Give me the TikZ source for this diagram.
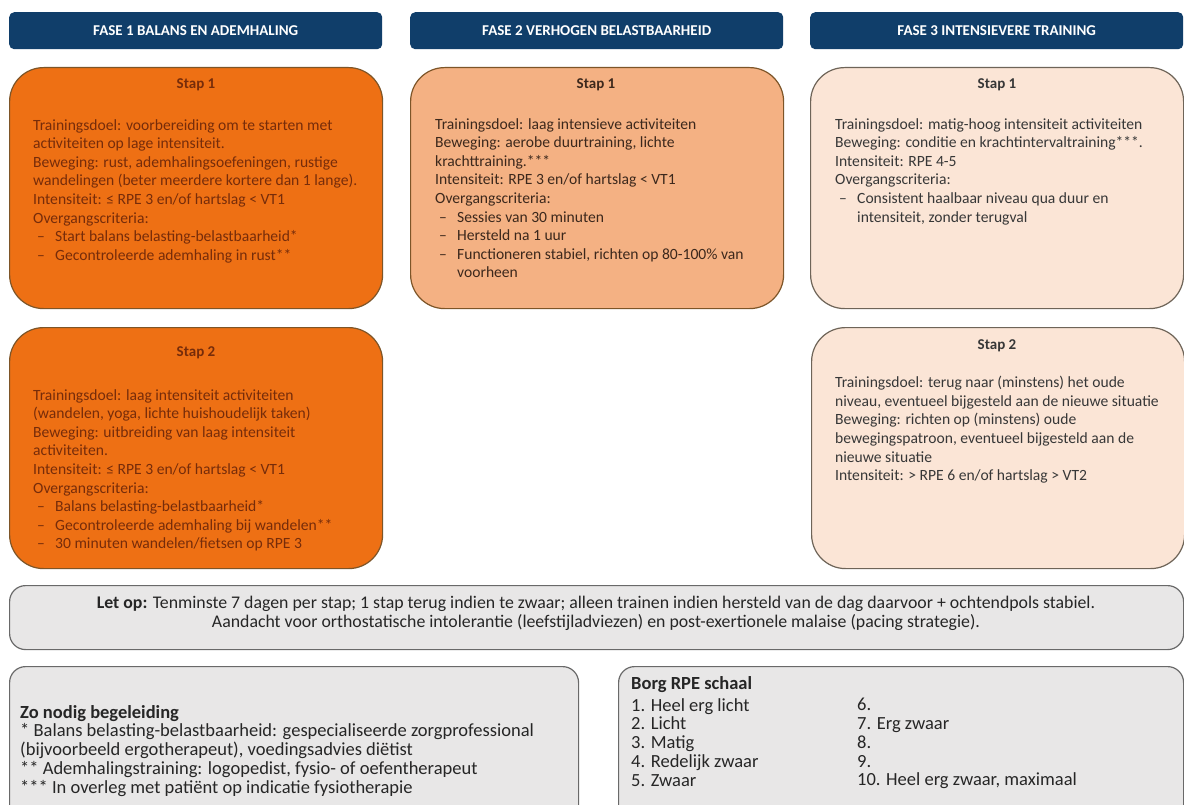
\documentclass[tikz,border=0pt]{standalone}
\usepackage{fontspec}
\setmainfont{Carlito}
\definecolor{navy}{RGB}{16,62,106}
\definecolor{orgA}{RGB}{238,112,20}
\definecolor{orgB}{RGB}{244,177,131}
\definecolor{peach}{RGB}{251,229,214}
\definecolor{greyfill}{RGB}{232,231,231}
\definecolor{txtA}{RGB}{118,44,10}
\definecolor{txtB}{RGB}{60,40,28}
\definecolor{txtC}{RGB}{55,55,55}
\definecolor{edgeA}{RGB}{125,85,40}
\definecolor{edgeC}{RGB}{110,100,88}
\definecolor{edgeG}{RGB}{105,105,105}
\newcommand{\bul}[1]{\makebox[22pt][l]{\hspace*{4pt}–}#1}
\newcommand{\cont}[1]{\hspace*{22pt}#1}
\begin{document}
\begin{tikzpicture}[x=1pt,y=-1pt]
\tikzset{
  hdr/.style={fill=navy, rounded corners=5pt, minimum width=373pt, minimum height=37pt,
    anchor=north west, inner sep=0pt, text=white, font=\fontsize{15}{17}\selectfont\bfseries},
  stapbox/.style={rounded corners=34pt, line width=1.2pt, minimum width=373pt,
    minimum height=241pt, anchor=north west, inner sep=0pt},
  greybox/.style={rounded corners=16pt, line width=1.2pt, draw=edgeG, fill=greyfill,
    anchor=north west, inner sep=0pt},
  title/.style={anchor=center, inner sep=0pt, font=\fontsize{15}{18}\selectfont\bfseries},
  body/.style={anchor=north west, align=left, inner sep=0pt, font=\fontsize{15.6}{18.6}\selectfont},
  foot/.style={anchor=north west, align=left, inner sep=0pt, font=\fontsize{18.5}{18.8}\selectfont},
}
\clip (0,0) rectangle (1184,805);
\fill[white] (0,0) rectangle (1184,805);

% headers
\node[hdr] (h1) at (9,12) {FASE 1 BALANS EN ADEMHALING};
\node[hdr] (h2) at (410,12) {FASE 2 VERHOGEN BELASTBAARHEID};
\node[hdr] (h3) at (810,12) {FASE 3 INTENSIEVERE TRAINING};

% step boxes
\node[stapbox, fill=orgA, draw=edgeA] (f1s1) at (9,67) {};
\node[stapbox, fill=orgB, draw=edgeA] (f2s1) at (410,67) {};
\node[stapbox, fill=peach, draw=edgeC] (f3s1) at (810,67) {};
\node[stapbox, fill=orgA, draw=edgeA] (f1s2) at (9,327) {};
\node[stapbox, fill=peach, draw=edgeC] (f3s2) at (811,327) {};

% titles
\node[title, text=txtA] (t11) at (196,85) {Stap 1};
\node[title, text=txtB] (t21) at (596,85) {Stap 1};
\node[title, text=txtC] (t31) at (997,85) {Stap 1};
\node[title, text=txtA] (t12) at (196,353) {Stap 2};
\node[title, text=txtC] (t32) at (997,346) {Stap 2};

% bodies
\node[body, text=txtA] (b11) at (33,119) {Trainingsdoel: voorbereiding om te starten met\\
activiteiten op lage intensiteit.\\
Beweging: rust, ademhalingsoefeningen, rustige\\
wandelingen (beter meerdere kortere dan 1 lange).\\
Intensiteit: ≤ RPE 3 en/of hartslag < VT1\\
Overgangscriteria:\\
\bul{Start balans belasting-belastbaarheid*}\\
\bul{Gecontroleerde ademhaling in rust**}};

\node[body, text=txtB] (b21) at (435,118) {Trainingsdoel: laag intensieve activiteiten\\
Beweging: aerobe duurtraining, lichte\\
krachttraining.***\\
Intensiteit: RPE 3 en/of hartslag < VT1\\
Overgangscriteria:\\
\bul{Sessies van 30 minuten}\\
\bul{Hersteld na 1 uur}\\
\bul{Functioneren stabiel, richten op 80-100\% van}\\
\cont{voorheen}};

\node[body, text=txtC] (b31) at (835,118) {Trainingsdoel: matig-hoog intensiteit activiteiten\\
Beweging: conditie en krachtintervaltraining***.\\
Intensiteit: RPE 4-5\\
Overgangscriteria:\\
\bul{Consistent haalbaar niveau qua duur en}\\
\cont{intensiteit, zonder terugval}};

\node[body, text=txtA] (b12) at (33,389) {Trainingsdoel: laag intensiteit activiteiten\\
(wandelen, yoga, lichte huishoudelijk taken)\\
Beweging: uitbreiding van laag intensiteit\\
activiteiten.\\
Intensiteit: ≤ RPE 3 en/of hartslag < VT1\\
Overgangscriteria:\\
\bul{Balans belasting-belastbaarheid*}\\
\bul{Gecontroleerde ademhaling bij wandelen**}\\
\bul{30 minuten wandelen/fietsen op RPE 3}};

\node[body, text=txtC] (b32) at (835,376) {Trainingsdoel: terug naar (minstens) het oude\\
niveau, eventueel bijgesteld aan de nieuwe situatie\\
Beweging: richten op (minstens) oude\\
bewegingspatroon, eventueel bijgesteld aan de\\
nieuwe situatie\\
Intensiteit: > RPE 6 en/of hartslag > VT2};

% bottom grey boxes
\node[greybox, minimum width=1174pt, minimum height=64pt] (letop) at (9,585) {};
\node[anchor=center, align=center, inner sep=0pt, font=\fontsize{17.8}{19}\selectfont, text=black!85] (letoptxt) at (596,613)
{\textbf{Let op:} Tenminste 7 dagen per stap; 1 stap terug indien te zwaar; alleen trainen indien hersteld van de dag daarvoor + ochtendpols stabiel.\\
Aandacht voor orthostatische intolerantie (leefstijladviezen) en post-exertionele malaise (pacing strategie).};

\node[greybox, minimum width=569pt, minimum height=170pt] (zonodig) at (9,666) {};
\node[foot, text=black!85] (zotxt) at (20,705) {\textbf{Zo nodig begeleiding}\\
* Balans belasting-belastbaarheid: gespecialiseerde zorgprofessional\\
(bijvoorbeeld ergotherapeut), voedingsadvies diëtist\\
** Ademhalingstraining: logopedist, fysio- of oefentherapeut\\
*** In overleg met patiënt op indicatie fysiotherapie};

\node[greybox, minimum width=565pt, minimum height=170pt] (borg) at (618,666) {};
\node[foot, text=black!85] (borgt) at (631,676) {\textbf{Borg RPE schaal}};
\node[foot, text=black!85] (borg1) at (631,698) {1. Heel erg licht\\
2. Licht\\
3. Matig\\
4. Redelijk zwaar\\
5. Zwaar};
\node[foot, text=black!85] (borg2) at (857,698) {6.\\
7. Erg zwaar\\
8.\\
9.\\
10. Heel erg zwaar, maximaal};
\end{tikzpicture}
\end{document}
